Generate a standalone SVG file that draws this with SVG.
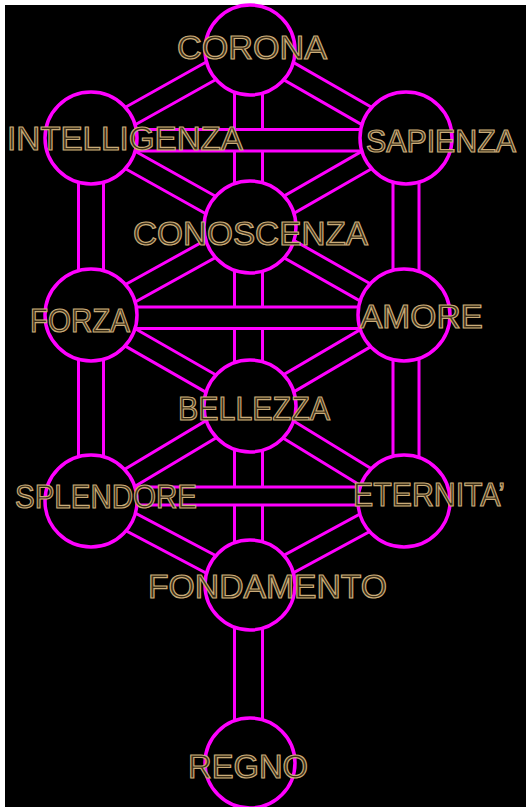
<svg xmlns="http://www.w3.org/2000/svg" width="526" height="807" viewBox="0 0 526 807">
  <style>
    .path { fill: #000; stroke: #ff00ff; stroke-width: 3; }
    .node { fill: #000; stroke: #ff00ff; stroke-width: 3.5; }
    .lbl { font-family: "Liberation Sans", Arial, sans-serif; font-size: 33px; fill: #3a2e18; stroke: #c9ab78; stroke-width: 1.2; }
  </style>
  <rect width="526" height="807" fill="#fff"/>
  <rect x="5" y="5" width="521" height="802" fill="#000"/>

  <g id="connectors">
    <!-- vertical paths -->
    <rect class="path" x="234.5" y="49" width="28" height="178"/>
    <rect class="path" x="234.5" y="227" width="28" height="179"/>
    <rect class="path" x="234.5" y="406" width="28" height="179"/>
    <rect class="path" x="234.5" y="585" width="28" height="178"/>
    <rect class="path" x="78.5" y="138" width="25" height="177"/>
    <rect class="path" x="78.5" y="315" width="25" height="186"/>
    <rect class="path" x="393" y="138" width="26" height="177"/>
    <rect class="path" x="393" y="315" width="26" height="186"/>
    <!-- horizontal paths -->
    <rect class="path" x="91" y="129.5" width="314" height="21.5"/>
    <rect class="path" x="91" y="307" width="314" height="21.5"/>
    <rect class="path" x="91" y="487" width="314" height="18"/>
    <!-- diagonal paths -->
    <rect class="path" x="0" y="-10" width="182.2" height="20" transform="translate(91 138) rotate(-29.24)"/>
    <rect class="path" x="0" y="-10" width="178.7" height="20" transform="translate(250 49) rotate(29.86)"/>
    <rect class="path" x="0" y="-10" width="182.2" height="20" transform="translate(91 138) rotate(29.24)"/>
    <rect class="path" x="0" y="-10" width="178.7" height="20" transform="translate(250 227) rotate(-29.86)"/>
    <rect class="path" x="0" y="-10" width="181.7" height="20" transform="translate(91 315) rotate(-28.96)"/>
    <rect class="path" x="0" y="-10" width="178.2" height="20" transform="translate(250 227) rotate(29.58)"/>
    <rect class="path" x="0" y="-10" width="183.2" height="20" transform="translate(91 315) rotate(29.78)"/>
    <rect class="path" x="0" y="-10" width="179.7" height="20" transform="translate(250 406) rotate(-30.42)"/>
    <rect class="path" x="0" y="-10" width="185.2" height="20" transform="translate(91 501) rotate(-30.86)"/>
    <rect class="path" x="0" y="-10" width="181.8" height="20" transform="translate(250 406) rotate(31.5)"/>
    <rect class="path" x="0" y="-10" width="179.8" height="20" transform="translate(91 501) rotate(27.85)"/>
    <rect class="path" x="0" y="-10" width="176.3" height="20" transform="translate(250 585) rotate(-28.46)"/>
  </g>

  <g id="corona"><circle class="node" cx="250" cy="50" r="45"/></g>
  <g id="intelligenza"><circle class="node" cx="91" cy="138" r="46"/></g>
  <g id="sapienza"><circle class="node" cx="406" cy="138" r="46"/></g>
  <g id="conoscenza"><circle class="node" cx="250" cy="227" r="46"/></g>
  <g id="forza"><circle class="node" cx="91" cy="315" r="46"/></g>
  <g id="amore"><circle class="node" cx="404" cy="315" r="46"/></g>
  <g id="bellezza"><circle class="node" cx="250" cy="406" r="46"/></g>
  <g id="splendore"><circle class="node" cx="91" cy="501" r="46"/></g>
  <g id="eternita"><circle class="node" cx="404" cy="501" r="46"/></g>
  <g id="fondamento"><circle class="node" cx="250" cy="585" r="45"/></g>
  <g id="regno"><circle class="node" cx="250" cy="763" r="45"/></g>

  <g id="labels">
    <text class="lbl" x="177" y="59" textLength="150" lengthAdjust="spacingAndGlyphs">CORONA</text>
    <text class="lbl" x="7" y="150" textLength="236" lengthAdjust="spacingAndGlyphs">INTELLIGENZA</text>
    <text class="lbl" x="366" y="152" style="font-size:31px" textLength="150" lengthAdjust="spacingAndGlyphs">SAPIENZA</text>
    <text class="lbl" x="133" y="245" textLength="235" lengthAdjust="spacingAndGlyphs">CONOSCENZA</text>
    <text class="lbl" x="30" y="332" textLength="100" lengthAdjust="spacingAndGlyphs">FORZA</text>
    <text class="lbl" x="360" y="328" textLength="123" lengthAdjust="spacingAndGlyphs">AMORE</text>
    <text class="lbl" x="178" y="420" textLength="152" lengthAdjust="spacingAndGlyphs">BELLEZZA</text>
    <text class="lbl" x="15" y="508" textLength="182" lengthAdjust="spacingAndGlyphs">SPLENDORE</text>
    <text class="lbl" x="353" y="506" textLength="152" lengthAdjust="spacingAndGlyphs">ETERNITA’</text>
    <text class="lbl" x="148" y="598" textLength="239" lengthAdjust="spacingAndGlyphs">FONDAMENTO</text>
    <text class="lbl" x="188" y="778" textLength="120" lengthAdjust="spacingAndGlyphs">REGNO</text>
  </g>
</svg>
